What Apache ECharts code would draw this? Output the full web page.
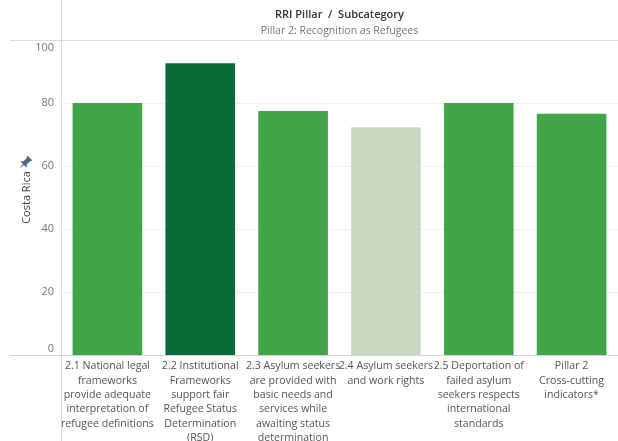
<!DOCTYPE html>
<html>
<head>
<meta charset="utf-8">
<script src="https://cdn.jsdelivr.net/npm/echarts@6/dist/echarts.min.js"></script>
<style>html,body{margin:0;padding:0;background:#fff}#c{width:618px;height:441px}</style>
</head>
<body>
<div id="c"></div>
<script>
var categories = [
  "2.1 National legal\nframeworks\nprovide adequate\ninterpretation of\nrefugee definitions",
  "2.2 Institutional\nFrameworks\nsupport fair\nRefugee Status\nDetermination\n(RSD)",
  "2.3 Asylum seekers\nare provided with\nbasic needs and\nservices while\nawaiting status\ndetermination",
  "2.4 Asylum seekers\nand work rights",
  "2.5 Deportation of\nfailed asylum\nseekers respects\ninternational\nstandards",
  "Pillar 2\nCross-cutting\nindicators*"
];
var values = [80, 92.6, 77.5, 72.3, 80, 76.6];
var barColors = ["#40a448", "#0a6a37", "#40a448", "#cad8c2", "#40a448", "#40a448"];
var yTicks = [0, 20, 40, 60, 80, 100];

var FONT = "'Open Sans', sans-serif";
var chart = echarts.init(document.getElementById('c'), null, {renderer: 'canvas'});
chart.setOption({
  animation: false,
  textStyle: {fontFamily: FONT},
  grid: {left: 61, right: 0, top: 40, bottom: 86, containLabel: false, outerBoundsMode: 'none'},
  xAxis: {
    type: 'category',
    data: categories,
    axisLine: {show: true, lineStyle: {color: '#d4d4d4', width: 1}},
    axisTick: {show: false},
    axisLabel: {
      interval: 0, color: '#555', fontSize: 10.6, fontFamily: FONT,
      lineHeight: 14.4, margin: 4, verticalAlign: 'top'
    },
    splitLine: {show: false}
  },
  yAxis: {
    type: 'value',
    min: yTicks[0], max: yTicks[yTicks.length - 1], interval: 20,
    name: 'Costa Rica',
    nameLocation: 'middle', nameRotate: 90, nameGap: 29, nameMoveOverlap: false,
    nameTextStyle: {color: '#444', fontSize: 11, fontFamily: FONT},
    axisLine: {show: false},
    axisTick: {show: false},
    axisLabel: {
      color: '#777', fontSize: 11, fontFamily: FONT, margin: 7,
      verticalAlignMaxLabel: 'top', verticalAlignMinLabel: 'bottom',
      formatter: function (v) {
        if (v === yTicks[yTicks.length - 1]) return '{t|' + v + '}';
        if (v === yTicks[0]) return '{b|' + v + '}';
        return String(v);
      },
      rich: {
        t: {color: '#777', fontSize: 11, fontFamily: FONT, lineHeight: 16},
        b: {color: '#777', fontSize: 11, fontFamily: FONT, lineHeight: 12}
      }
    },
    splitLine: {show: true, lineStyle: {color: '#f1f1f1', width: 1}}
  },
  series: [{
    type: 'bar',
    data: values.map(function (v, i) { return {value: v, itemStyle: {color: barColors[i]}}; }),
    barWidth: '75%'
  }],
  graphic: [
    {type: 'line', shape: {x1: 61.5, y1: 0, x2: 61.5, y2: 441}, style: {stroke: '#dcdcdc', lineWidth: 1}, z: 10},
    {type: 'line', shape: {x1: 10, y1: 40.5, x2: 618, y2: 40.5}, style: {stroke: '#dcdcdc', lineWidth: 1}, z: 10},
    {type: 'line', shape: {x1: 10, y1: 355.5, x2: 618, y2: 355.5}, style: {stroke: '#d4d4d4', lineWidth: 1}, z: 10},
    {type: 'text', x: 339.5, y: 15, style: {text: 'RRI Pillar  /  Subcategory', fill: '#333', font: '600 11px ' + FONT, textAlign: 'center', textVerticalAlign: 'middle'}},
    {type: 'text', x: 339.5, y: 31, style: {text: 'Pillar 2: Recognition as Refugees', fill: '#777', font: '10.5px ' + FONT, textAlign: 'center', textVerticalAlign: 'middle'}},
    {type: 'group', x: 25, y: 163, rotation: -Math.PI / 4, children: [
      {type: 'polygon', shape: {points: [[-3.5,-7],[3.5,-7],[2.3,-4.5],[2.3,0],[4.5,2.2],[-4.5,2.2],[-2.3,0],[-2.3,-4.5]]}, style: {fill: '#4f6680'}},
      {type: 'polygon', shape: {points: [[-0.8,2.2],[0.8,2.2],[0,7.5]]}, style: {fill: '#4f6680'}}
    ]}
  ]
});
</script>
</body>
</html>
